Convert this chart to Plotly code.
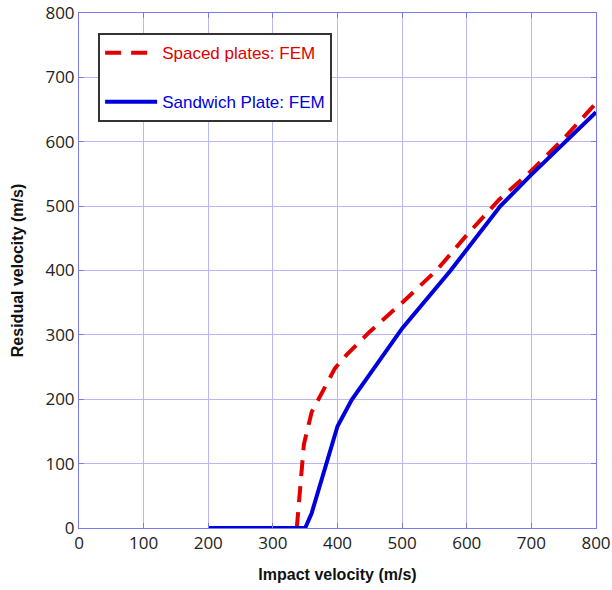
import plotly.graph_objects as go

spaced_x = [337, 342, 348, 360, 378, 396, 414, 450, 500, 554, 600, 650, 700, 750, 800]
spaced_y = [0, 60, 130, 180, 214, 248, 269, 305, 350, 401, 455, 510, 555, 605, 660]

sandwich_x = [200, 350, 360, 400, 422, 500, 575, 652, 700, 800]
sandwich_y = [0, 0, 23, 158, 199, 310, 400, 500, 549, 646]

x_ticks = [0, 100, 200, 300, 400, 500, 600, 700, 800]
y_ticks = [0, 100, 200, 300, 400, 500, 600, 700, 800]

fig = go.Figure()
fig.add_trace(go.Scatter(
    x=spaced_x, y=spaced_y, mode="lines",
    name="<span style='color:#e00000'>Spaced plates: FEM</span>",
    line=dict(color="#e00000", width=4, dash="16px,10px"),
    legendgroup="a",
))
fig.add_trace(go.Scatter(
    x=sandwich_x, y=sandwich_y, mode="lines",
    name="<span style='color:#0000dd'>Sandwich Plate: FEM</span>",
    line=dict(color="#0000dd", width=4),
    legendgroup="b",
))

axis_common = dict(
    showgrid=True, gridcolor="#b8b8f4", gridwidth=1,
    showline=True, linecolor="#7a7af0", linewidth=1, mirror="ticks",
    ticks="inside", tickcolor="#7a7af0", ticklen=5,
    zeroline=False, automargin=False,
    tickfont=dict(family="Open Sans, Arial", size=17, color="#222"),
)

title_font = dict(family="Liberation Sans, Arial", size=16, color="#111")

fig.update_layout(
    width=612, height=590,
    margin=dict(l=79, r=16, t=13, b=62),
    paper_bgcolor="white", plot_bgcolor="white",
    xaxis=dict(range=[0, 800], tickvals=x_ticks,
               title=dict(text="<b>Impact velocity (m/s)</b>", standoff=15, font=title_font),
               **axis_common),
    yaxis=dict(range=[0, 800], tickvals=y_ticks,
               title=dict(text="<b>Residual velocity (m/s)</b>", standoff=17, font=title_font),
               **axis_common),
    legend=dict(
        x=0.037, y=0.961, xanchor="left", yanchor="top",
        bgcolor="white", bordercolor="#333", borderwidth=2,
        font=dict(family="Liberation Sans, Arial", size=17),
        tracegroupgap=24, itemwidth=52,
    ),
    showlegend=True,
)

fig.write_html("out.html")
